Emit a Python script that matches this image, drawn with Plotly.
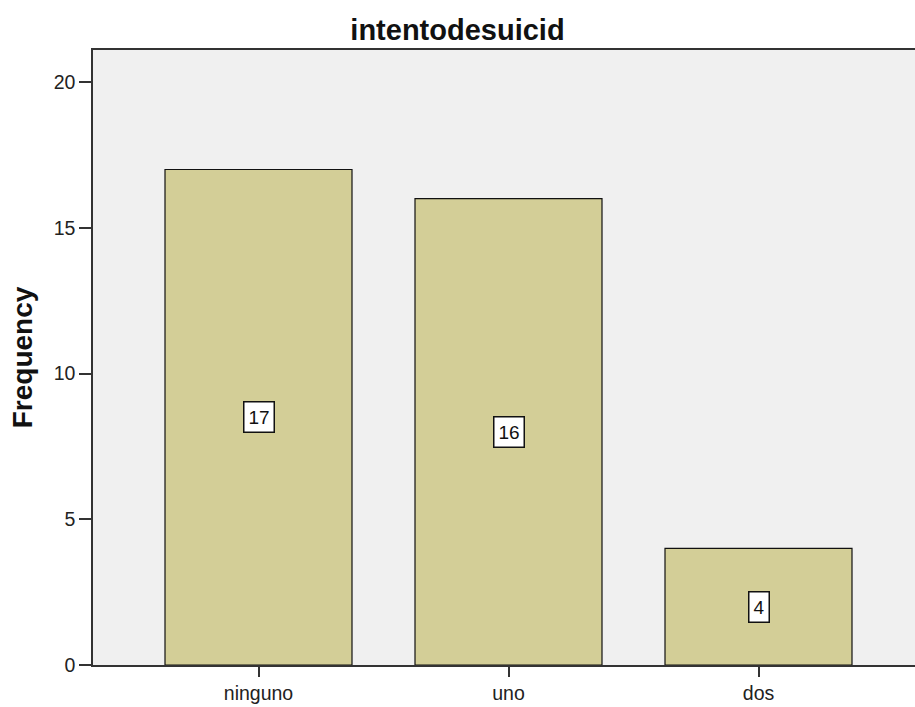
import plotly.graph_objects as go

# Frequency table for "intentodesuicid"
categories = ["ninguno", "uno", "dos"]
frequencies = [17, 16, 4]
y_ticks = [0, 5, 10, 15, 20]

positions = list(range(len(categories)))

fig = go.Figure()
fig.add_trace(go.Bar(
    x=positions,
    y=frequencies,
    width=0.748,
    marker=dict(color="#d3ce97", line=dict(color="#111111", width=1.2)),
    hoverinfo="skip",
))

# value labels in small white boxes at the middle of each bar
for xp, v in zip(positions, frequencies):
    fig.add_annotation(
        x=xp, y=v / 2, text=str(v), showarrow=False,
        font=dict(family="Arial", size=19, color="#111111"),
        bgcolor="white", bordercolor="#111111", borderwidth=1.5, borderpad=4,
        xanchor="center", yanchor="middle",
    )

fig.update_layout(
    width=915, height=707,
    margin=dict(l=93, r=0, t=50, b=42),
    paper_bgcolor="white",
    plot_bgcolor="#f0f0f0",
    showlegend=False,
    title=dict(
        text="<b>intentodesuicid</b>",
        x=0.5, xanchor="center", y=1 - 30 / 707, yanchor="middle",
        font=dict(family="Arial", size=29, color="#111111"),
    ),
    font=dict(family="Arial", color="#222222"),
)

fig.update_xaxes(
    range=[-0.662, 2.626],
    tickmode="array", tickvals=positions, ticktext=categories,
    ticks="outside", ticklen=10, tickwidth=1.5, tickcolor="#333333",
    tickfont=dict(family="Arial", size=19.5, color="#222222"),
    showline=True, linecolor="#333333", linewidth=1.5, mirror=True,
    showgrid=False, zeroline=False, fixedrange=True,
)
fig.update_yaxes(
    range=[0, 21.1],
    tickmode="array", tickvals=y_ticks,
    ticks="outside", ticklen=12, tickwidth=1.5, tickcolor="#333333",
    tickfont=dict(family="Arial", size=19.5, color="#222222"),
    showline=True, linecolor="#333333", linewidth=1.5,
    showgrid=False, zeroline=False, fixedrange=True,
    title=dict(text="<b>Frequency</b>", standoff=13,
               font=dict(family="Arial", size=28, color="#111111")),
)

fig.write_html("out.html")
